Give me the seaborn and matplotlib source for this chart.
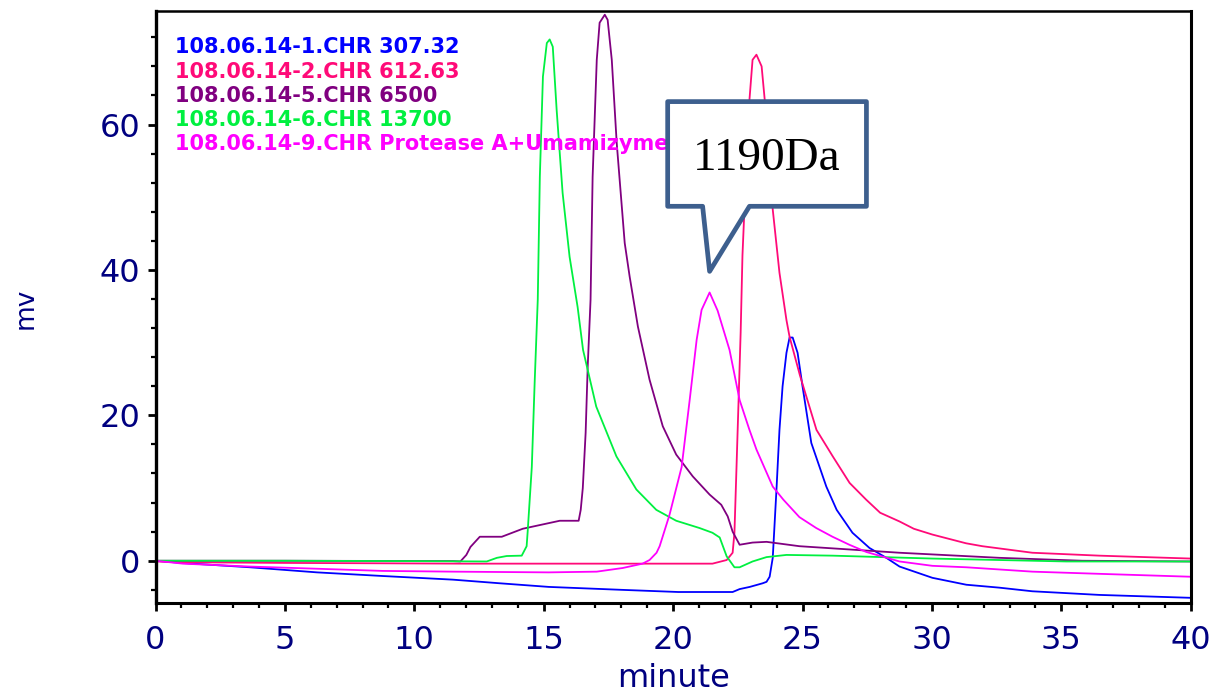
import numpy as np
import pandas as pd
import matplotlib
matplotlib.use("Agg")
import matplotlib.pyplot as plt
from matplotlib.patches import Polygon
from matplotlib.ticker import MultipleLocator
import seaborn as sns

# ---- chromatogram traces (minute, mV) ----
blue_t = [0, 1.0, 3.65, 6.24, 8.78, 11.49, 13.3, 15.2, 18.0, 20.2, 22.3, 22.57, 22.96, 23.46,
          23.61, 23.73, 23.85, 24.0, 24.11, 24.23, 24.38, 24.50, 24.62, 24.81, 25.0, 25.34,
          25.92, 26.32, 26.93, 27.59, 28.24, 28.75, 30.02, 31.33, 32.6, 33.88, 36.47, 40.0]
blue_v = [0, -0.3, -0.9, -1.6, -2.1, -2.6, -3.1, -3.6, -4.0, -4.3, -4.3, -3.9, -3.6, -3.1,
          -2.9, -2.2, 0.4, 10.2, 18.0, 24.0, 28.6, 30.7, 30.7, 28.6, 24.0, 16.2,
          10.2, 7.0, 3.85, 1.75, 0.4, -0.8, -2.35, -3.3, -3.7, -4.2, -4.7, -5.1]

red_t = [0, 0.04, 1.0, 5.0, 8.55, 12.0, 21.52, 22.07, 22.30, 22.37, 22.45, 22.53, 22.61, 22.68,
         22.76, 22.95, 23.07, 23.22, 23.42, 23.54, 23.85, 24.11, 24.38, 24.50, 24.9, 25.54,
         26.17, 26.82, 27.46, 28.0, 28.75, 29.3, 30.02, 31.32, 31.95, 33.88, 36.47, 40.0]
red_v = [-5.6, -0.1, -0.2, -0.3, -0.35, -0.4, -0.4, 0.1, 1.1, 3.85, 12.9, 22.1, 31.4, 42.0,
         48.7, 63.4, 68.9, 69.6, 68.0, 63.4, 48.3, 39.6, 33.1, 30.8, 25.5, 18.0,
         14.35, 10.7, 8.4, 6.6, 5.4, 4.4, 3.6, 2.4, 2.0, 1.1, 0.7, 0.3]

purple_t = [0, 5.0, 11.5, 11.78, 12.01, 12.17, 12.53, 13.38, 14.19, 15.62, 16.35, 16.43, 16.51,
            16.62, 16.70, 16.81, 16.89, 17.05, 17.16, 17.36, 17.47, 17.63, 17.82, 18.13, 18.32,
            18.64, 19.09, 19.6, 20.12, 20.76, 21.41, 21.86, 22.11, 22.30, 22.57, 23.07, 23.61,
            24.88, 28.75, 32.61, 35.81, 40.0]
purple_v = [0, 0, -0.05, -0.1, 0.8, 1.9, 3.3, 3.3, 4.4, 5.5, 5.5, 7.0, 10.0,
            17.6, 26.7, 35.9, 52.8, 68.9, 74.0, 75.1, 74.4, 68.9, 57.5, 43.7, 39.1,
            32.2, 24.9, 18.5, 14.6, 11.6, 9.1, 7.7, 6.1, 4.0, 2.2, 2.5, 2.6,
            2.0, 1.1, 0.4, 0.0, -0.1]

green_t = [0, 5.0, 10.0, 12.8, 13.19, 13.57, 14.15, 14.34, 14.38, 14.54, 14.65, 14.77, 14.85,
           14.97, 15.12, 15.23, 15.35, 15.50, 15.73, 16.00, 16.31, 16.52, 17.03, 17.81, 18.58,
           19.35, 20.12, 21.02, 21.52, 21.80, 22.07, 22.37, 22.57, 23.07, 23.61, 24.38, 26.16,
           30.02, 35.19, 40.0]
green_v = [0, 0, -0.05, -0.1, 0.4, 0.65, 0.7, 2.0, 4.0, 12.9, 24.5, 35.9, 52.8,
           66.6, 71.2, 71.7, 70.7, 62.0, 50.6, 41.8, 34.9, 29.0, 21.2, 14.35, 9.8,
           7.0, 5.5, 4.5, 3.85, 3.2, 0.6, -0.9, -0.9, -0.1, 0.5, 0.8, 0.7,
           0.3, -0.1, -0.1]

magenta_t = [0, 1.06, 3.65, 6.24, 8.78, 11.49, 15.2, 17.05, 18.05, 18.82, 19.09, 19.36, 19.48,
             19.86, 20.33, 20.64, 20.91, 21.10, 21.41, 21.72, 22.18, 22.57, 22.95, 23.22, 23.85,
             24.26, 24.88, 25.53, 26.16, 26.81, 27.47, 28.75, 30.02, 31.33, 33.88, 36.47, 40.0]
magenta_v = [0, -0.4, -0.8, -1.1, -1.4, -1.5, -1.6, -1.5, -1.0, -0.4, 0.1, 1.1, 2.0,
             6.3, 12.9, 22.1, 30.4, 34.5, 36.9, 34.4, 29.0, 22.1, 18.0, 15.3, 10.2,
             8.4, 6.0, 4.5, 3.3, 2.2, 1.2, -0.1, -0.7, -0.9, -1.5, -1.8, -2.2]

labels = ["108.06.14-1.CHR 307.32",
          "108.06.14-2.CHR 612.63",
          "108.06.14-5.CHR 6500",
          "108.06.14-6.CHR 13700",
          "108.06.14-9.CHR Protease A+Umamizyme"]
colors = ["#0000FF", "#FF0A78", "#800080", "#00F040", "#FF00FF"]
series = [(blue_t, blue_v), (red_t, red_v), (purple_t, purple_v),
          (green_t, green_v), (magenta_t, magenta_v)]

callout_text = "1190Da"

sns.set_theme(style="ticks")
plt.rcParams["font.family"] = ["DejaVu Sans"]

fig = plt.figure(figsize=(12.15, 6.93), dpi=100)
ax = fig.add_axes([0.128, 0.130, 0.852, 0.854])
ax.set_facecolor("white")
fig.patch.set_facecolor("white")

for (t, v), c in zip(series, colors):
    df = pd.DataFrame({"minute": t, "mv": v})
    sns.lineplot(data=df, x="minute", y="mv", color=c, lw=1.3, sort=False,
                 estimator=None, ax=ax, legend=False)

ax.set_xlim(0, 40)
ax.set_ylim(-5.8, 75.6)
ax.xaxis.set_major_locator(MultipleLocator(5))
ax.xaxis.set_minor_locator(MultipleLocator(1))
ax.yaxis.set_major_locator(MultipleLocator(20))
ax.yaxis.set_minor_locator(MultipleLocator(4))

navy = "#000080"
ax.tick_params(axis="both", which="major", direction="out", length=6, width=2,
               color="black", labelsize=23, labelcolor=navy)
ax.tick_params(axis="both", which="minor", direction="out", length=3.5, width=1.6,
               color="black")
ax.tick_params(axis="x", which="major", pad=10)
ax.tick_params(axis="y", which="major", pad=5)
ax.tick_params(top=False, right=False, which="both")

for side in ["left", "bottom", "right", "top"]:
    ax.spines[side].set_visible(True)
    ax.spines[side].set_color("black")
ax.spines["left"].set_linewidth(2.4)
ax.spines["bottom"].set_linewidth(2.2)
ax.spines["right"].set_linewidth(2.2)
ax.spines["top"].set_linewidth(1.8)

ax.set_xlabel("minute", fontsize=23, color=navy, va="center")
ax.set_ylabel("mv", fontsize=19, color=navy, va="center")
ax.xaxis.set_label_coords(0.5, -0.128)
ax.yaxis.set_label_coords(-0.125, 0.497)

# series names, stacked in the upper left corner
for i, (lab, c) in enumerate(zip(labels, colors)):
    ax.text(0.0188, 0.9285 - i * 0.041, lab, transform=ax.transAxes, color=c,
            fontsize=15, fontweight="bold", ha="left", va="baseline", zorder=4)

# speech-bubble callout pointing at the top of the enzyme-hydrolysate peak
mag = np.array(magenta_v)
pk = int(np.argmax(mag))
tip_x, tip_y = magenta_t[pk], magenta_v[pk] + 2.9
box_l, box_r = tip_x - 1.62, tip_x + 6.06
box_b, box_t = tip_y + 8.95, tip_y + 23.35
base_l, base_r = tip_x - 0.27, tip_x + 1.54
bubble = Polygon([(box_l, box_t), (box_r, box_t), (box_r, box_b), (base_r, box_b),
                  (tip_x, tip_y), (base_l, box_b), (box_l, box_b)],
                 closed=True, facecolor="white", edgecolor="#3D5F8E", lw=3.4,
                 joinstyle="round", zorder=6, clip_on=False)
ax.add_patch(bubble)
ax.text((box_l + box_r) / 2, (box_b + box_t) / 2 - 0.6, callout_text,
        family="Liberation Serif", fontsize=34, color="black",
        ha="center", va="center", zorder=7)

fig.savefig("out.png", dpi=100, facecolor="white")
